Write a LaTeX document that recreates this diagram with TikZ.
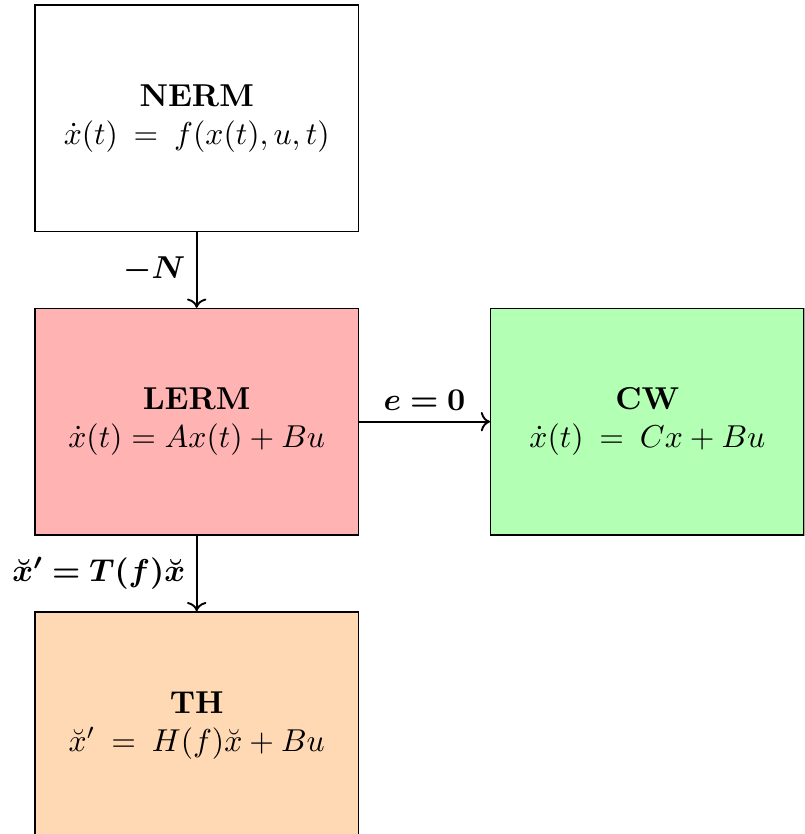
\documentclass[tikz,border=0pt]{standalone}
\usepackage{amsmath}
\usepackage{bm}
\usetikzlibrary{positioning,arrows.meta}
\definecolor{LinRed}{RGB}{255,179,179}
\definecolor{CwGreen}{RGB}{179,255,179}
\definecolor{ThOrange}{RGB}{255,217,179}
\tikzset{
  flow/.style={->,semithick,draw=black},
  model/.style={draw=black,thin,minimum width=3.59cm,minimum height=2.515cm,
    align=center,inner sep=0pt},
  linmodel/.style={model,fill=LinRed},
  cwmodel/.style={model,fill=CwGreen,minimum width=3.48cm},
  thmodel/.style={model,fill=ThOrange}
}

\begin{document}
\begin{tikzpicture}[node distance=0.84cm and 1.455cm]
  % crop as in the reference
  \clip (-2.184,1.313) rectangle (6.746,-7.947);
  \node[model] (nerm) at (0,0) {\textbf{NERM}\\ $\dot{x}(t) \:=\: f(x(t),u,t)$};
  \node[linmodel,below=of nerm] (lerm) {\textbf{LERM}\\ $\dot{x}(t) = Ax(t) + Bu$};
  \node[cwmodel,right=of lerm] (cw) {\textbf{CW}\\ $\dot{x}(t) \:=\: Cx + Bu$};
  \node[thmodel,below=of lerm] (th) {\textbf{TH}\\ $\breve{x}' \:=\: H(f)\breve{x} + Bu$};
  \draw[flow] (nerm) -- node[midway,left] {$\bm{-N}$} (lerm);
  \draw[flow] (lerm) -- node[midway,above] {$\bm{e = 0}$} (cw);
  \draw[flow] (lerm) -- node[midway,left] {$\bm{\breve{x}' = T(f)\breve{x}}$} (th);
\end{tikzpicture}
\end{document}
